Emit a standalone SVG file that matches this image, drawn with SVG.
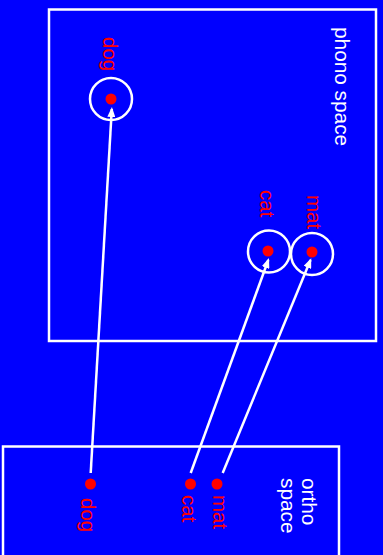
<svg xmlns="http://www.w3.org/2000/svg" width="383" height="555" viewBox="0 0 383 555">
<defs>
<style>
.box{fill:none;stroke:#fff;stroke-width:2.5}
.ring{fill:none;stroke:#fff;stroke-width:2.5}
.dot{fill:#f00}
.lbl{font-family:"Liberation Sans",Arial,sans-serif;font-size:20.5px;fill:#f00}
.title{font-family:"Liberation Sans",Arial,sans-serif;font-size:20.8px;fill:#fff}
.conn{stroke:#fff;stroke-width:2.5;fill:none;marker-end:url(#arr)}
</style>
<marker id="arr" markerUnits="userSpaceOnUse" markerWidth="10" markerHeight="8" viewBox="0 0 10 8" refX="8" refY="4" orient="auto">
<path d="M0,0 L10,4 L0,8 z" fill="#fff"/>
</marker>
</defs>
<rect x="0" y="0" width="383" height="555" fill="#0000ff"/>
<g id="phono-space">
<rect class="box" x="49" y="9.5" width="327" height="331.5"/>
<text class="title" transform="translate(335,27) rotate(90)">phono space</text>
</g>
<g id="ortho-space">
<rect class="box" x="3" y="446.5" width="336" height="120"/>
<text class="title" transform="translate(302,478) rotate(90)">ortho</text>
<text class="title" transform="translate(281,478) rotate(90)">space</text>
</g>
<g id="phono-dog">
<circle class="ring" cx="111" cy="99" r="21"/>
<circle class="dot" cx="111" cy="99" r="5.5"/>
<text class="lbl" transform="translate(103,37) rotate(90)">dog</text>
</g>
<g id="phono-cat">
<circle class="ring" cx="269" cy="251.5" r="21"/>
<circle class="dot" cx="268" cy="251" r="5.5"/>
<text class="lbl" transform="translate(260,190) rotate(90)">cat</text>
</g>
<g id="phono-mat">
<circle class="ring" cx="312" cy="254" r="21"/>
<circle class="dot" cx="312" cy="252" r="5.5"/>
<text class="lbl" transform="translate(307,195) rotate(90)">mat</text>
</g>
<g id="ortho-dog">
<circle class="dot" cx="90.5" cy="484" r="5.5"/>
<text class="lbl" transform="translate(81,498) rotate(90)">dog</text>
</g>
<g id="ortho-cat">
<circle class="dot" cx="190.5" cy="484" r="5.5"/>
<text class="lbl" transform="translate(182,495) rotate(90)">cat</text>
</g>
<g id="ortho-mat">
<circle class="dot" cx="217" cy="484" r="5.5"/>
<text class="lbl" transform="translate(212.5,495) rotate(90)">mat</text>
</g>
<g id="connectors">
<line class="conn" x1="90.7" y1="473" x2="111.8" y2="109"/>
<line class="conn" x1="190.7" y1="473" x2="268.3" y2="260"/>
<line class="conn" x1="222.7" y1="473" x2="310.5" y2="260"/>
</g>
</svg>
